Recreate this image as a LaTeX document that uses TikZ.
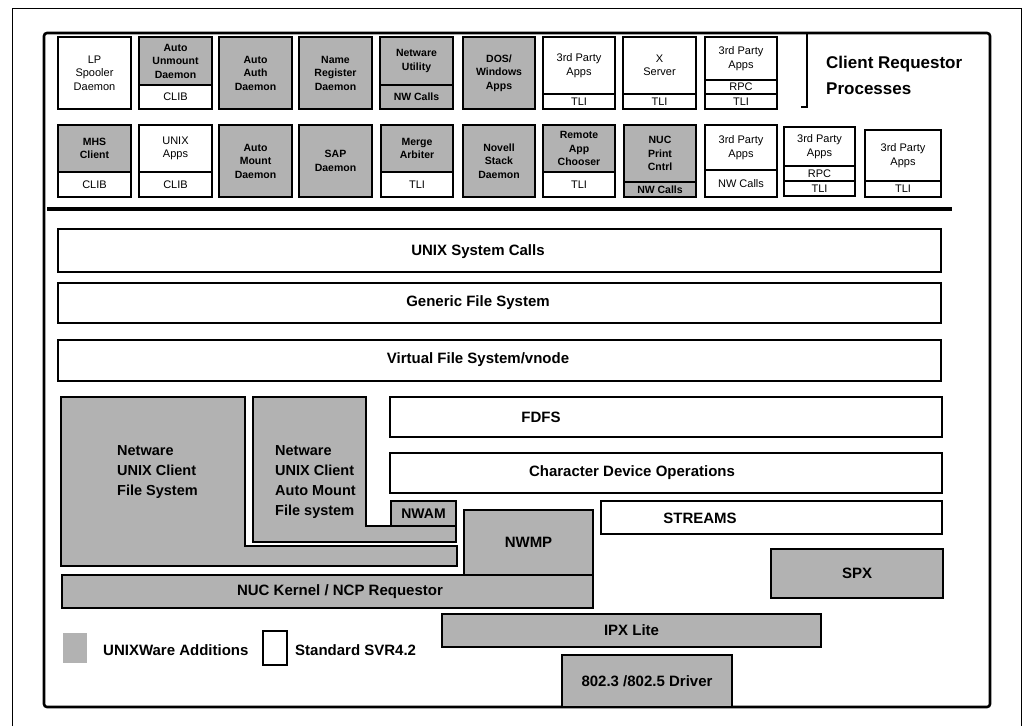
\documentclass[tikz,border=0pt]{standalone}
\usepackage{fontspec}
\setmainfont{Liberation Sans}
\usetikzlibrary{positioning}
\colorlet{halftone}{black!30}
\newcommand{\boxfont}{\fontsize{11}{13.5}\selectfont}
\newcommand{\gboxfont}{\fontsize{10.5}{13.5}\selectfont\bfseries}
\newcommand{\layerfont}{\fontsize{15}{18}\selectfont\bfseries}
\tikzset{wbox/.style = {shape=rectangle,draw,line width=1.1pt,fill=white,inner sep=0pt,outer sep=0pt,anchor=north west,align=center,font=\boxfont}}
\tikzset{gbox/.style = {wbox,fill=halftone,font=\gboxfont}}
\tikzset{layer/.style = {wbox,font=\layerfont}}
\tikzset{glayer/.style = {gbox,font=\layerfont}}
\tikzset{lbl/.style = {inner sep=0pt,font=\layerfont}}
\tikzset{fslbl/.style = {lbl,anchor=west,align=left,font=\fontsize{14.5}{20}\selectfont\bfseries}}

\begin{document}
\begin{tikzpicture}[x=1pt,y=-1pt]
        \useasboundingbox (0,0) rectangle (1025,726);
        % frames
        \draw[line width=0.9pt] (12,726) -- (12,8) -- (1021,8) -- (1021,726);
        \draw[line width=2.6pt, rounded corners=3pt] (44,33) rectangle (990,707);

        % client processes, first row
        \node[wbox, minimum width=73, minimum height=72] (lp) at (58,37) {LP\\Spooler\\Daemon};
        \node[gbox, minimum width=73, minimum height=48] (unmount) at (139,37) {Auto\\Unmount\\Daemon};
        \node[wbox, minimum width=73, minimum height=24, below=0pt of unmount] (unmountclib) {CLIB};
        \node[gbox, minimum width=73, minimum height=72] (auth) at (219,37) {Auto\\Auth\\Daemon};
        \node[gbox, minimum width=73, minimum height=72] (namereg) at (299,37) {Name\\Register\\Daemon};
        \node[gbox, minimum width=73, minimum height=48] (nwutil) at (380,37) {Netware\\Utility};
        \node[gbox, minimum width=73, minimum height=24, below=0pt of nwutil] (nwutilcalls) {NW Calls};
        \node[gbox, minimum width=72, minimum height=72] (dos) at (463,37) {DOS/\\Windows\\Apps};
        \node[wbox, minimum width=72, minimum height=57] (tpa) at (543,37) {3rd Party\\Apps};
        \node[wbox, minimum width=72, minimum height=15, below=0pt of tpa] (tpatli) {TLI};
        \node[wbox, minimum width=73, minimum height=57] (xsrv) at (623,37) {X\\Server};
        \node[wbox, minimum width=73, minimum height=15, below=0pt of xsrv] (xsrvtli) {TLI};
        \node[wbox, minimum width=72, minimum height=43] (tparpc) at (705,37) {3rd Party\\Apps};
        \node[wbox, minimum width=72, minimum height=14, below=0pt of tparpc] (tparpcrpc) {RPC};
        \node[wbox, minimum width=72, minimum height=15, below=0pt of tparpcrpc] (tparpctli) {TLI};

        \coordinate (bt) at (807,33);
        \coordinate (bb) at (807,107);
        \draw[line width=1.3pt] ([xshift=-6pt]bt) -- (bt) -- (bb) -- ([xshift=-6pt]bb);
        \node[inner sep=0pt, anchor=west, align=left, font=\fontsize{17}{26}\selectfont\bfseries] (crp) at (826,75) {Client Requestor\\Processes};

        % client processes, second row
        \node[gbox, minimum width=73, minimum height=47] (mhs) at (58,125) {MHS\\Client};
        \node[wbox, minimum width=73, minimum height=25, below=0pt of mhs] (mhsclib) {CLIB};
        \node[wbox, minimum width=73, minimum height=47] (uapps) at (139,125) {UNIX\\Apps};
        \node[wbox, minimum width=73, minimum height=25, below=0pt of uapps] (uappsclib) {CLIB};
        \node[gbox, minimum width=73, minimum height=72] (amount) at (219,125) {Auto\\Mount\\Daemon};
        \node[gbox, minimum width=73, minimum height=72] (sap) at (299,125) {SAP\\Daemon};
        \node[gbox, minimum width=72, minimum height=47] (merge) at (381,125) {Merge\\Arbiter};
        \node[wbox, minimum width=72, minimum height=25, below=0pt of merge] (mergetli) {TLI};
        \node[gbox, minimum width=72, minimum height=72] (novell) at (463,125) {Novell\\Stack\\Daemon};
        \node[gbox, minimum width=72, minimum height=47] (remote) at (543,125) {Remote\\App\\Chooser};
        \node[wbox, minimum width=72, minimum height=25, below=0pt of remote] (remotetli) {TLI};
        \node[gbox, minimum width=72, minimum height=57] (nucprint) at (624,125) {NUC\\Print\\Cntrl};
        \node[gbox, minimum width=72, minimum height=15, below=0pt of nucprint] (nucprintcalls) {NW Calls};
        \node[wbox, minimum width=72, minimum height=45] (tpanw) at (705,125) {3rd Party\\Apps};
        \node[wbox, minimum width=72, minimum height=27, below=0pt of tpanw] (tpanwcalls) {NW Calls};
        \node[wbox, minimum width=71, minimum height=39] (tparpcb) at (784,127) {3rd Party\\Apps};
        \node[wbox, minimum width=71, minimum height=15, below=0pt of tparpcb] (tparpcbrpc) {RPC};
        \node[wbox, minimum width=71, minimum height=15, below=0pt of tparpcbrpc] (tparpcbtli) {TLI};
        \node[wbox, minimum width=76, minimum height=51] (tpab) at (865,130) {3rd Party\\Apps};
        \node[wbox, minimum width=76, minimum height=16, below=0pt of tpab] (tpabtli) {TLI};

        \draw[line width=4pt] (47,209) -- (952,209);

        % kernel layers
        \node[layer, minimum width=883, minimum height=43] (syscalls) at (58,229) {};
        \node[lbl] (syscallslbl) at (478,252) {UNIX System Calls};
        \node[layer, minimum width=883, minimum height=40] (gfs) at (58,283) {};
        \node[lbl] (gfslbl) at (478,303) {Generic File System};
        \node[layer, minimum width=883, minimum height=41] (vfs) at (58,340) {};
        \node[lbl] (vfslbl) at (478,360) {Virtual File System/vnode};
        \node[layer, minimum width=552, minimum height=40] (fdfs) at (390,397) {};
        \node[lbl] (fdfslbl) at (541,417) {FDFS};
        \node[layer, minimum width=552, minimum height=40] (chardev) at (390,453) {};
        \node[lbl] (chardevlbl) at (632,473) {Character Device Operations};
        \node[layer, minimum width=341, minimum height=33] (streams) at (601,501) {};
        \node[lbl] (streamslbl) at (700,518) {STREAMS};

        % file systems
        \filldraw[fill=halftone, line width=1.1pt] (61,397) -- (245,397) -- (245,546) -- (457,546) -- (457,566) -- (61,566) -- cycle;
        \node[fslbl] (nucfs) at (117,472) {Netware\\UNIX Client\\File System};
        \filldraw[fill=halftone, line width=1.1pt] (253,397) -- (366,397) -- (366,526) -- (456,526) -- (456,542) -- (253,542) -- cycle;
        \node[fslbl] (amfs) at (275,482) {Netware\\UNIX Client\\Auto Mount\\File system};
        \node[glayer, minimum width=65, minimum height=25, font=\fontsize{14}{16}\selectfont\bfseries] (nwam) at (391,501) {NWAM};

        % network stack
        \node[glayer, minimum width=129, minimum height=65] (nwmp) at (464,510) {NWMP};
        \node[glayer, minimum width=531, minimum height=33] (nuc) at (62,575) {};
        \node[lbl] (nuclbl) at (340,592) {NUC Kernel / NCP Requestor};
        \node[glayer, minimum width=172, minimum height=49] (spx) at (771,549) {SPX};
        \node[glayer, minimum width=379, minimum height=33] (ipx) at (442,614) {IPX Lite};
        \node[glayer, minimum width=170, minimum height=52] (driver) at (562,655) {802.3 /802.5 Driver};

        % legend
        \fill[halftone] (63,633) rectangle (87,663);
        \node[lbl, anchor=west] (addlbl) at (103,650) {UNIXWare Additions};
        \node[wbox, minimum width=24, minimum height=34] (stdkey) at (263,631) {};
        \node[lbl, anchor=west] (stdlbl) at (295,650) {Standard SVR4.2};
      \end{tikzpicture}
\end{document}
